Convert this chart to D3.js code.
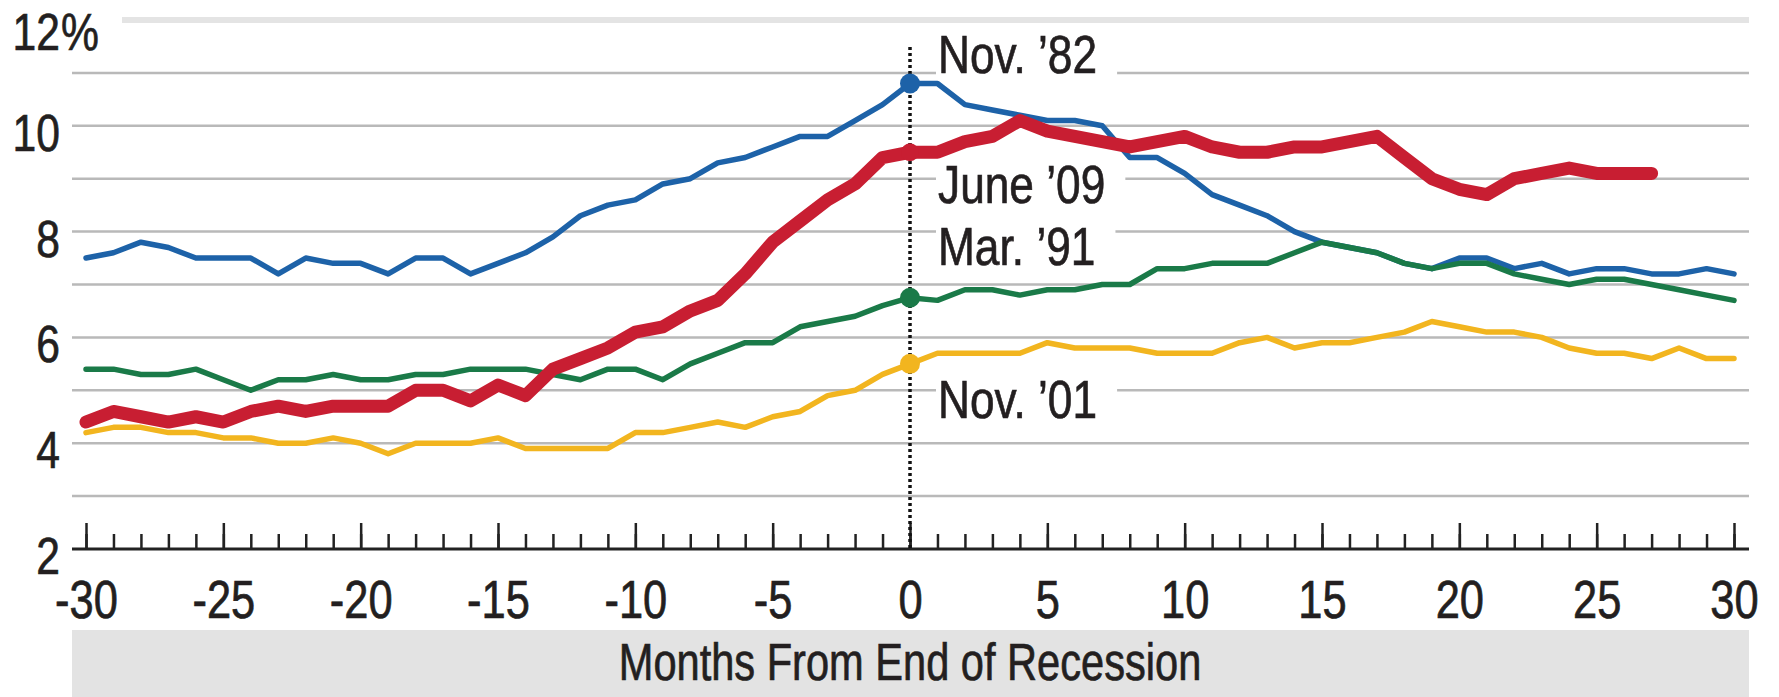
<!DOCTYPE html>
<html>
<head>
<meta charset="utf-8">
<script src="https://cdn.jsdelivr.net/npm/d3@7"></script>
<style>
  html, body { margin: 0; padding: 0; background: #fff; }
  svg { display: block; }
  text { font-family: "Liberation Sans", Arial, sans-serif; fill: #231f20; stroke: #231f20; stroke-width: 0.7px; }
</style>
</head>
<body>
<svg id="chart" width="1779" height="697"></svg>
<script>
// Months relative to the end of each recession
const months = d3.range(-30, 31);
const xTickValues = [-30, -25, -20, -15, -10, -5, 0, 5, 10, 15, 20, 25, 30];
const yTickValues = [2, 4, 6, 8, 10, 12];

// Unemployment rate, %, months -30 .. +30
const rateNov82 = [7.5, 7.6, 7.8, 7.7, 7.5, 7.5, 7.5, 7.2, 7.5, 7.4, 7.4, 7.2, 7.5, 7.5, 7.2, 7.4,
  7.6, 7.9, 8.3, 8.5, 8.6, 8.9, 9.0, 9.3, 9.4, 9.6, 9.8, 9.8, 10.1, 10.4, 10.8,
  10.8, 10.4, 10.3, 10.2, 10.1, 10.1, 10.0, 9.4, 9.4, 9.1, 8.7, 8.5, 8.3, 8.0, 7.8,
  7.7, 7.6, 7.4, 7.3, 7.5, 7.5, 7.3, 7.4, 7.2, 7.3, 7.3, 7.2, 7.2, 7.3, 7.2];
const rateMar91 = [5.4, 5.4, 5.3, 5.3, 5.4, 5.2, 5.0, 5.2, 5.2, 5.3, 5.2, 5.2, 5.3, 5.3, 5.4, 5.4,
  5.4, 5.3, 5.2, 5.4, 5.4, 5.2, 5.5, 5.7, 5.9, 5.9, 6.2, 6.3, 6.4, 6.6, 6.75,
  6.7, 6.9, 6.9, 6.8, 6.9, 6.9, 7.0, 7.0, 7.3, 7.3, 7.4, 7.4, 7.4, 7.6, 7.8,
  7.7, 7.6, 7.4, 7.3, 7.4, 7.4, 7.2, 7.1, 7.0, 7.1, 7.1, 7.0, 6.9, 6.8, 6.7];
const rateNov01 = [4.2, 4.3, 4.3, 4.2, 4.2, 4.1, 4.1, 4.0, 4.0, 4.1, 4.0, 3.8, 4.0, 4.0, 4.0, 4.1,
  3.9, 3.9, 3.9, 3.9, 4.2, 4.2, 4.3, 4.4, 4.3, 4.5, 4.6, 4.9, 5.0, 5.3, 5.5,
  5.7, 5.7, 5.7, 5.7, 5.9, 5.8, 5.8, 5.8, 5.7, 5.7, 5.7, 5.9, 6.0, 5.8, 5.9,
  5.9, 6.0, 6.1, 6.3, 6.2, 6.1, 6.1, 6.0, 5.8, 5.7, 5.7, 5.6, 5.8, 5.6, 5.6];
// Months -30 .. +27
const rateJun09 = [4.4, 4.6, 4.5, 4.4, 4.5, 4.4, 4.6, 4.7, 4.6, 4.7, 4.7, 4.7, 5.0, 5.0, 4.8, 5.1,
  4.9, 5.4, 5.6, 5.8, 6.1, 6.2, 6.5, 6.7, 7.2, 7.8, 8.2, 8.6, 8.9, 9.4, 9.5,
  9.5, 9.7, 9.8, 10.1, 9.9, 9.8, 9.7, 9.6, 9.7, 9.8, 9.6, 9.5, 9.5, 9.6, 9.6,
  9.7, 9.8, 9.4, 9.0, 8.8, 8.7, 9.0, 9.1, 9.2, 9.1, 9.1, 9.1];

const seriesLabels = ["Nov. \u201982", "June \u201909", "Mar. \u201991", "Nov. \u201901"];

const svg = d3.select("#chart");
const x = d3.scaleLinear().domain([-30, 30]).range([86, 1734]);
const y = d3.scaleLinear().domain([2, 12]).range([549, 20]);
const SX = 0.82;          // horizontal squeeze for a condensed look
const left = 72, right = 1749;

// Horizontal gridlines
svg.append("g").selectAll("line")
  .data(d3.range(3, 12))
  .join("line")
  .attr("x1", left).attr("x2", right)
  .attr("y1", d => y(d)).attr("y2", d => y(d))
  .attr("stroke", "#b9b9b9").attr("stroke-width", 2.5);
svg.append("line")
  .attr("x1", 122).attr("x2", right)
  .attr("y1", y(12)).attr("y2", y(12))
  .attr("stroke", "#e4e4e4").attr("stroke-width", 6);

// Y tick labels
const yLab = svg.append("g").style("font-size", "52px");
yTickValues.forEach(v => {
  const base = v === 12 ? y(v) + 30 : y(v) + 25;
  yLab.append("text")
    .attr("transform", `translate(60,${base}) scale(${SX},1)`)
    .attr("text-anchor", "end").text(v);
  if (v === 12) {
    yLab.append("text")
      .attr("transform", `translate(61,${base}) scale(${SX},1)`)
      .attr("text-anchor", "start").text("%");
  }
});

// Bottom band and axis title
svg.append("rect")
  .attr("x", left).attr("y", 630).attr("width", right - left).attr("height", 67)
  .attr("fill", "#e3e3e3");
svg.append("text")
  .attr("transform", `translate(${x(0)},680) scale(0.8,1)`)
  .attr("text-anchor", "middle").style("font-size", "52px")
  .text("Months From End of Recession");

// X axis: minor monthly ticks, major ticks every five months with labels
const axisY = y(2);
svg.append("g").attr("transform", `translate(0,${axisY})`)
  .call(d3.axisBottom(x).tickValues(months).tickSize(-15).tickFormat(""))
  .call(g => g.select(".domain").remove())
  .call(g => g.selectAll(".tick line").attr("stroke", "#222").attr("stroke-width", 2.5));
const xMajor = svg.append("g").attr("transform", `translate(0,${axisY})`)
  .call(d3.axisBottom(x).tickValues(xTickValues).tickSize(-26).tickPadding(31)
    .tickFormat(d => String(d)))
  .call(g => g.select(".domain").remove());
xMajor.selectAll(".tick line").attr("stroke", "#222").attr("stroke-width", 2.5);
xMajor.selectAll(".tick text")
  .attr("fill", "#231f20")
  .style("font-family", "\"Liberation Sans\", Arial, sans-serif")
  .style("font-size", "53px")
  .attr("transform", `scale(${SX},1)`);
svg.append("line")
  .attr("x1", left).attr("x2", right).attr("y1", axisY).attr("y2", axisY)
  .attr("stroke", "#222").attr("stroke-width", 3);

// Series labels at the end of each recession, on white boxes
const labelBase = [11.0, 8.55, 7.37, 4.48];
const labG = svg.append("g").style("font-size", "54px");
seriesLabels.forEach((t, i) => {
  const bx = x(0) + 28, by = y(labelBase[i]);
  const g = labG.append("g");
  const rect = g.append("rect").attr("fill", "#fff");
  const txt = g.append("text")
    .attr("transform", `translate(${bx},${by}) scale(${SX},1)`)
    .text(t);
  const w = txt.node().getComputedTextLength() * SX;
  rect.attr("x", bx - 2).attr("y", by - 42).attr("width", w + 22).attr("height", 50);
});

// Dotted reference line at the end of recession
svg.append("line")
  .attr("x1", x(0)).attr("x2", x(0)).attr("y1", 47).attr("y2", axisY)
  .attr("stroke", "#111").attr("stroke-width", 3.5).attr("stroke-dasharray", "3,3");

// Series lines
const series = [
  { values: rateNov01, color: "#f2b51f", width: 5.5 },
  { values: rateNov82, color: "#1d62a8", width: 5.5 },
  { values: rateMar91, color: "#1a7a48", width: 5.5 },
  { values: rateJun09, color: "#c81e32", width: 13 }
];
const line = d3.line().x((d, i) => x(months[i])).y(d => y(d));
svg.append("g").selectAll("path")
  .data(series)
  .join("path")
  .attr("d", d => line(d.values))
  .attr("fill", "none")
  .attr("stroke", d => d.color)
  .attr("stroke-width", d => d.width)
  .attr("stroke-linejoin", "round")
  .attr("stroke-linecap", "round");

// Markers at month 0
svg.append("g").selectAll("circle")
  .data(series)
  .join("circle")
  .attr("cx", x(0))
  .attr("cy", d => y(d.values[months.indexOf(0)]))
  .attr("r", d => d.width > 6 ? 9 : 10)
  .attr("fill", d => d.color);
</script>
</body>
</html>
